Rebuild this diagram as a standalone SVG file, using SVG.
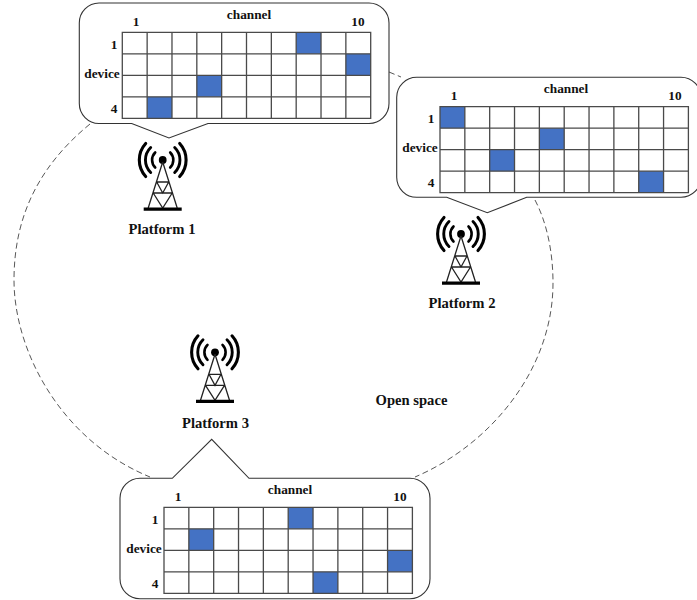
<svg xmlns="http://www.w3.org/2000/svg" width="697" height="600" viewBox="0 0 697 600">
<style>
text{font-family:"Liberation Serif","Times New Roman",serif;font-weight:bold;fill:#111;text-anchor:middle}
.s{font-size:13.3px}
.l{font-size:14.6px}
.callout{fill:#fff;stroke:#333;stroke-width:1.1}
.dash{fill:none;stroke:#444;stroke-width:.9;stroke-dasharray:6 3.5}
.cell{fill:#4472C4}
.gridline{fill:none;stroke:#4a4a4a;stroke-width:1.3}
.tw{fill:none;stroke:#222;stroke-width:1.3}
.wave{fill:none;stroke:#000;stroke-linecap:round}
</style>
<defs>
<path id="grid" class="gridline" d="M0,0H248.4V86H0ZM24.84,0V86M49.68,0V86M74.52,0V86M99.36,0V86M124.2,0V86M149.04,0V86M173.88,0V86M198.72,0V86M223.56,0V86M0,21.5H248.4M0,43H248.4M0,64.5H248.4"/>
<rect id="c" class="cell" width="24.84" height="21.5"/>
<g id="tower">
<circle r="3.9" fill="#000"/>
<path class="tw" d="M0,2L-14.5,48M0,2L14.5,48M-6,22H6M-9.5,33H9.5M-6,22L0,33L6,22M-9.5,33L0,48L9.5,33"/>
<path d="M-19,47.500H19V50.800H-19Z" fill="#000"/>
<path class="wave" stroke-width="2.6" d="M-7.500,-7.500A10.600,10.600 0 0 0 -7.500,7.500M7.500,-7.500A10.600,10.600 0 0 1 7.500,7.500"/>
<path class="wave" stroke-width="2.9" d="M-12,-12.500A17.500,17.500 0 0 0 -12,12.500M12,-12.500A17.500,17.500 0 0 1 12,12.500"/>
<path class="wave" stroke-width="3.1" d="M-17,-16.500A24.500,24.500 0 0 0 -17,16.500M17,-16.500A24.500,24.500 0 0 1 17,16.500"/>
</g>
</defs>
<g id="connectors">
<path class="dash" d="M90,124C40,165 14,215 14,280C14,350 60,440 150,477"/>
<path class="dash" d="M535,200C548,225 553,255 553,283C553,370 490,445 415,477"/>
<path class="dash" d="M389,72L401,77"/>
</g>
<g id="table-1">
<path class="callout" d="M99,3H369A20,20 0 0 1 389,23V103.500A20,20 0 0 1 369,123.500H208L169,138L131.700,123.500H99A20,20 0 0 1 79.300,103.500V23A20,20 0 0 1 99,3Z"/>
<g transform="translate(122.300,32.300)">
<use href="#c" x="173.880" y="0"/><use href="#c" x="223.560" y="21.500"/><use href="#c" x="74.520" y="43"/><use href="#c" x="24.840" y="64.500"/>
<use href="#grid"/>
</g>
<text class="s" x="249" y="19">channel</text><text class="s" x="136" y="26">1</text><text class="s" x="358" y="26">10</text>
<text class="s" x="114" y="49">1</text><text class="s" x="102" y="78">device</text><text class="s" x="114" y="113">4</text>
</g>
<g id="table-2">
<path class="callout" d="M417,77.300H681A20,20 0 0 1 701,97.300V177.300A20,20 0 0 1 681,197.300H526.700L487.300,212.700L446.700,197.300H417A20,20 0 0 1 396.700,177.300V97.300A20,20 0 0 1 417,77.300Z"/>
<g transform="translate(440,106.700)">
<use href="#c" x="0" y="0"/><use href="#c" x="99.360" y="21.500"/><use href="#c" x="49.680" y="43"/><use href="#c" x="198.720" y="64.500"/>
<use href="#grid"/>
</g>
<text class="s" x="566" y="93">channel</text><text class="s" x="454" y="100">1</text><text class="s" x="675" y="100">10</text>
<text class="s" x="431" y="123">1</text><text class="s" x="420" y="152">device</text><text class="s" x="431" y="187">4</text>
</g>
<g id="table-3">
<path class="callout" d="M140,478.300H172.300L211.700,439.300L249,478.300H410A20,20 0 0 1 430,498.300V578.700A20,20 0 0 1 410,598.700H140A20,20 0 0 1 120,578.700V498.300A20,20 0 0 1 140,478.300Z"/>
<g transform="translate(164,507.300)">
<use href="#c" x="124.200" y="0"/><use href="#c" x="24.840" y="21.500"/><use href="#c" x="223.560" y="43"/><use href="#c" x="149.040" y="64.500"/>
<use href="#grid"/>
</g>
<text class="s" x="290" y="494">channel</text><text class="s" x="178" y="501">1</text><text class="s" x="400" y="501">10</text>
<text class="s" x="155" y="524">1</text><text class="s" x="144" y="553">device</text><text class="s" x="155" y="588">4</text>
</g>
<g id="platform-1"><use href="#tower" x="162.700" y="160"/><text class="l" x="162" y="234">Platform 1</text></g>
<g id="platform-2"><use href="#tower" x="461" y="234"/><text class="l" x="462" y="308">Platform 2</text></g>
<g id="platform-3"><use href="#tower" x="215" y="352.300"/><text class="l" x="215.500" y="428">Platform 3</text></g>
<g id="open-space"><text class="l" x="411.500" y="405">Open space</text></g>
</svg>
